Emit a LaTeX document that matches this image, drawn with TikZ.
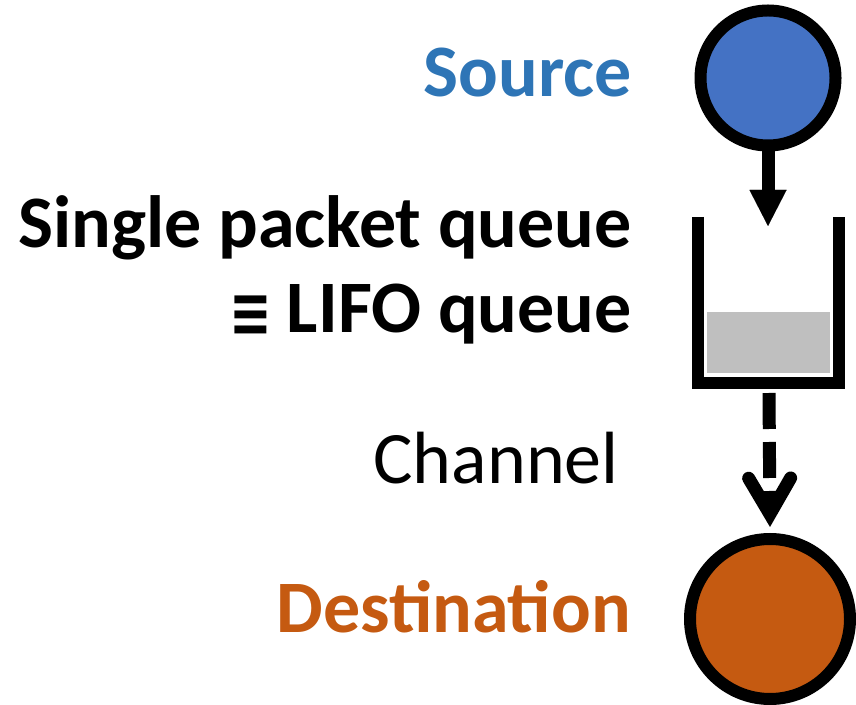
\documentclass[tikz,border=0pt]{standalone}
\usepackage{fontspec}
\setmainfont{Carlito}
\newfontfamily\symfont{DejaVu Sans}
\usetikzlibrary{arrows.meta}
\definecolor{srcblue}{HTML}{2E75B6}
\definecolor{srcfill}{HTML}{4472C4}
\definecolor{dstorange}{HTML}{C55A11}
\definecolor{packetgray}{HTML}{BFBFBF}
\begin{document}
\begin{tikzpicture}[x=1pt,y=1pt,
  label/.style={anchor=base east,inner sep=0pt,font=\fontsize{74}{82}\selectfont\bfseries},
  plainlabel/.style={anchor=base east,inner sep=0pt,font=\fontsize{74}{82}\selectfont},
  station/.style={circle,draw=black,line width=12pt,inner sep=0pt},
  flow/.style={line width=13pt,-{Triangle[length=36pt,width=37pt,line width=0.01pt]}},
  channel/.style={line width=13pt,dash pattern=on 36pt off 13pt,
    -{Straight Barb[length=36pt,width=42pt,line cap=round,line join=miter]}}]
\useasboundingbox (0,0) rectangle (856,704);

% labels
\node[label,text=srcblue] (tsrc) at (632,607) {Source};
\node[label] (tq1) at (632,456) {Single packet queue};
\node[label] (tq2) at (632,371) {\raisebox{-4pt}{\scalebox{0.85}[1.15]{\symfont\fontsize{60}{60}\selectfont ≡}}\hspace{15pt}LIFO queue};
\node[plainlabel] (tch) at (619,220) {Channel};
\node[label,text=dstorange] (tdst) at (631,72) {Destination};

% source and destination
\node[station,fill=srcfill,minimum size=135pt] (src) at (768,626) {};
\node[station,fill=dstorange,minimum size=160pt] (dst) at (770,85) {};

% queue with one stored packet
\node[rectangle,minimum width=140.5pt,minimum height=166pt,inner sep=0pt] (queue) at (768.75,404) {};
\fill[packetgray] (707,331) rectangle (830,392);
\draw[line width=12pt,line join=miter] (queue.north west) -- (queue.south west) -- (queue.south east) -- (queue.north east);

% connectors
\coordinate (qin) at (768,478);
\coordinate (qout) at (769,311);
\draw[flow] (src.south) -- (qin);
\draw[channel] (qout) -- ([yshift=6pt]dst.north);
\end{tikzpicture}
\end{document}
